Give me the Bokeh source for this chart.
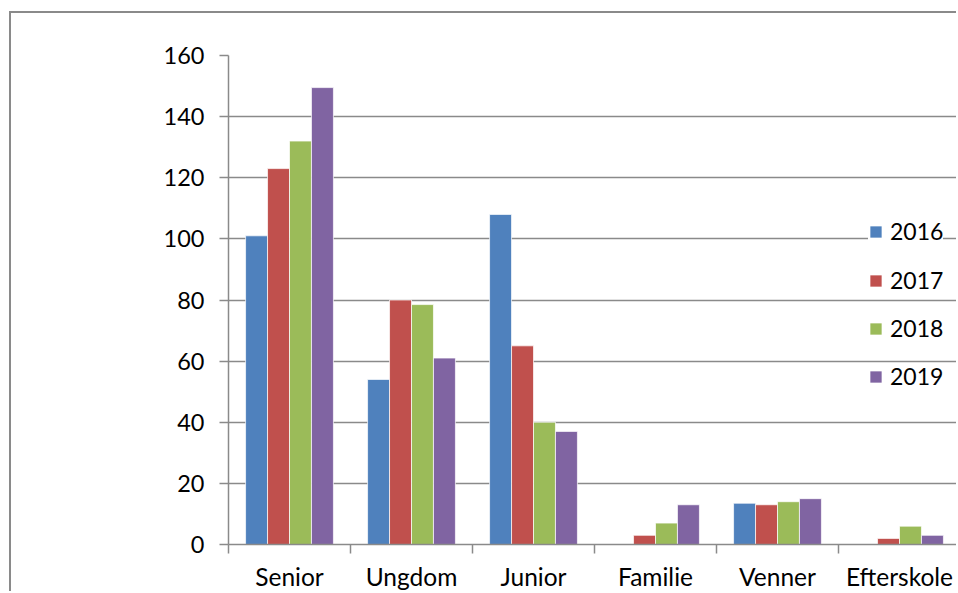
import numpy as np
from bokeh.plotting import figure
from bokeh.models import Range1d, FixedTicker, Legend, LegendItem, ColumnDataSource
from bokeh.embed import file_html
from bokeh.resources import INLINE

categories = ["Senior", "Ungdom", "Junior", "Familie", "Venner", "Efterskole"]
years = ["2016", "2017", "2018", "2019"]
v2016 = [101, 54, 108, 0, 13.5, 0]
v2017 = [123, 80, 65, 3, 13, 2]
v2018 = [132, 78.5, 40, 7, 14, 6]
v2019 = [149.5, 61, 37, 13, 15, 3]
y_ticks = [0, 20, 40, 60, 80, 100, 120, 140, 160]

series = [v2016, v2017, v2018, v2019]
colors = ["#4F81BD", "#C0504D", "#9BBB59", "#8064A2"]
GRAY = "#8a8a8a"
FONT = "Lato"

n = len(categories)
centers = np.arange(n) + 0.5
bw = 0.18

p = figure(width=947, height=580, output_backend="svg", toolbar_location=None,
           x_range=Range1d(0, 730 / 122), y_range=Range1d(0, 160),
           min_border_left=217, min_border_top=42, min_border_right=0, min_border_bottom=0)
p.styles = {"border-left": "2px solid " + GRAY, "border-top": "2px solid " + GRAY,
            "margin-left": "9px", "margin-top": "11px"}
p.outline_line_color = None
p.background_fill_color = "white"
p.border_fill_color = "white"

renderers = []
for k, (vals, col) in enumerate(zip(series, colors)):
    src = ColumnDataSource(dict(x=centers + (k - 1.5) * bw, top=vals))
    r = p.vbar(x="x", top="top", width=bw, bottom=0, source=src,
               fill_color=col, line_color="white", line_width=0.7)
    renderers.append(r)

# grid
p.xgrid.visible = False
p.ygrid.ticker = FixedTicker(ticks=y_ticks)
p.ygrid.grid_line_color = GRAY
p.ygrid.grid_line_width = 1.5

# y axis
ya = p.yaxis[0]
ya.ticker = FixedTicker(ticks=y_ticks, minor_ticks=[])
ya.axis_line_color = GRAY
ya.axis_line_width = 1.5
ya.major_tick_line_color = GRAY
ya.major_tick_line_width = 1.5
ya.major_tick_out = 9
ya.major_tick_in = 0
ya.minor_tick_line_color = None
ya.major_label_text_font = FONT
ya.major_label_text_font_size = "23.5px"
ya.major_label_text_color = "black"
ya.major_label_standoff = 15

# x axis
xa = p.xaxis[0]
xa.ticker = FixedTicker(ticks=list(centers), minor_ticks=list(range(n + 1)))
xa.major_label_overrides = {float(c): lab for c, lab in zip(centers, categories)}
xa.axis_line_color = GRAY
xa.axis_line_width = 1.5
xa.major_tick_line_color = None
xa.major_tick_out = 0
xa.major_tick_in = 0
xa.minor_tick_line_color = GRAY
xa.minor_tick_line_width = 1.5
xa.minor_tick_out = 9
xa.minor_tick_in = 0
xa.major_label_text_font = FONT
xa.major_label_text_font_size = "24.5px"
xa.major_label_text_color = "black"
xa.major_label_standoff = 8

def mk_legend(items, loc, bg):
    lg = Legend(items=items, location=loc, orientation="vertical",
                glyph_width=15, glyph_height=15, label_height=24,
                label_standoff=7, spacing=20, padding=0, margin=0,
                label_text_font=FONT, label_text_font_size="23px",
                label_text_color="black", border_line_color=None)
    if bg:
        lg.background_fill_color = "white"
        lg.background_fill_alpha = 1.0
    else:
        lg.background_fill_alpha = 0.0
    return lg

items = [LegendItem(label=y, renderers=[r]) for y, r in zip(years, renderers)]
p.add_layout(mk_legend(items[:1], (640, 299), True))
p.add_layout(mk_legend(items[1:], (640, 154), False))

open("out.html", "w").write(file_html(p, INLINE))
